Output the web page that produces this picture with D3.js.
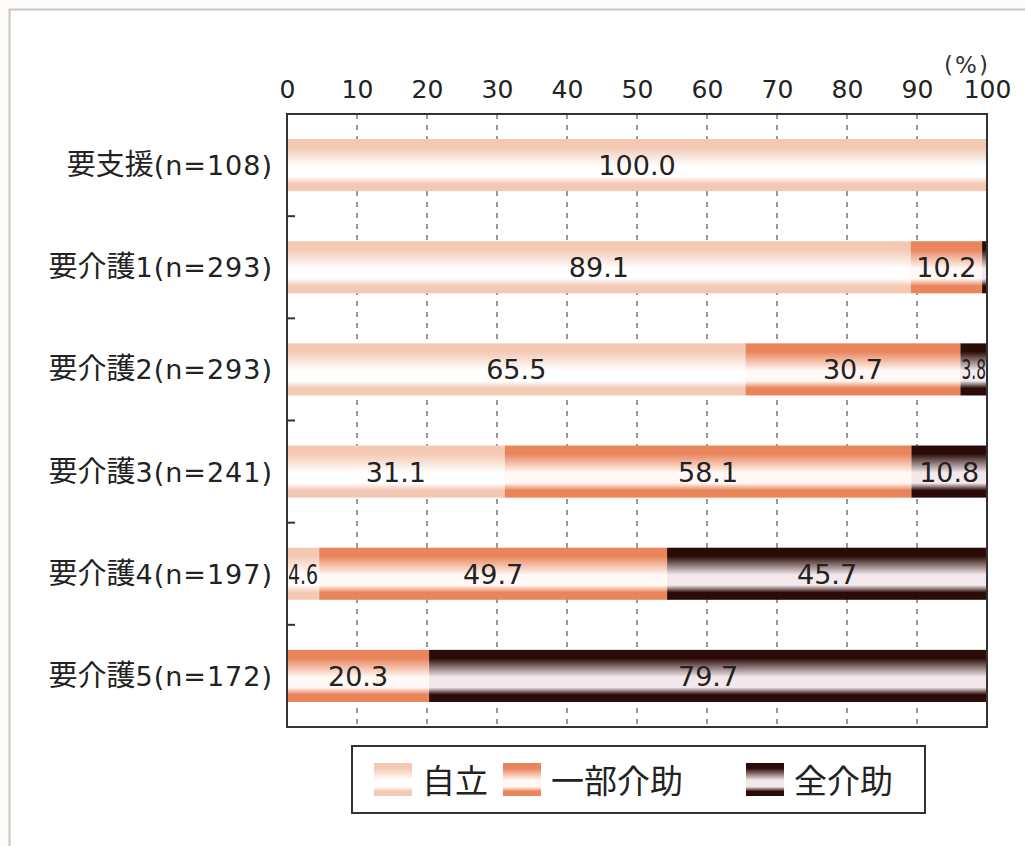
<!DOCTYPE html>
<html>
<head>
<meta charset="utf-8">
<script src="https://cdn.jsdelivr.net/npm/d3@7"></script>
<style>
  body { margin: 0; background: #fdfcfa; }
  svg { display: block; }
</style>
</head>
<body>
<div id="chart"></div>
<script>
// categories and series (percent)
const categories = ['要支援', '要介護1', '要介護2', '要介護3', '要介護4', '要介護5'];
const counts = ['(n=108)', '(n=293)', '(n=293)', '(n=241)', '(n=197)', '(n=172)'];
const seriesNames = ['自立', '一部介助', '全介助'];
const jiritsu = [100.0, 89.1, 65.5, 31.1, 4.6, 0];
const ichibu = [0, 10.2, 30.7, 58.1, 49.7, 20.3];
const zenkaijo = [0, 0.7, 3.8, 10.8, 45.7, 79.7];
const xTicks = [0, 10, 20, 30, 40, 50, 60, 70, 80, 90, 100];

const rows = categories.map((c, i) => ({ cat: c, n: counts[i], '自立': jiritsu[i], '一部介助': ichibu[i], '全介助': zenkaijo[i] }));

const W = 1025, H = 846;
const margin = { left: 287, right: 38, top: 114, bottom: 119 };
const width = W - margin.left - margin.right;
const height = H - margin.top - margin.bottom;

const svg = d3.select('#chart').append('svg')
  .attr('width', W)
  .attr('height', H);

// outer frame of the figure
svg.append('rect')
  .attr('x', 9.5).attr('y', 9.5)
  .attr('width', W + 20).attr('height', H + 20)
  .attr('fill', '#ffffff')
  .attr('stroke', '#c9c3c0')
  .attr('stroke-width', 2);

// gradients: colour at edges, white band in the middle
const colors = { '自立': '#f3c9b3', '一部介助': '#e9845b', '全介助': '#2b0b07' };
const mids = { '自立': '#ffffff', '一部介助': '#fff8f4', '全介助': '#f3e9ec' };
const defs = svg.append('defs');
seriesNames.forEach((s, i) => {
  const gr = defs.append('linearGradient')
    .attr('id', 'grad' + i)
    .attr('x1', 0).attr('y1', 0).attr('x2', 0).attr('y2', 1);
  [[0, colors[s]], [0.16, colors[s]], [0.52, mids[s]], [0.72, mids[s]], [0.86, colors[s]], [1, colors[s]]]
    .forEach(st => gr.append('stop').attr('offset', st[0]).attr('stop-color', st[1]));
});

const g = svg.append('g')
  .attr('transform', `translate(${margin.left}, ${margin.top})`);

// scales
const x = d3.scaleLinear().domain([0, 100]).range([0, width]);
const y = d3.scaleBand().domain(categories).range([0, height]).paddingInner(0.49).paddingOuter(0.245);
const yTicks = d3.scaleBand().domain(categories).range([0, height]);

// dashed grid
g.selectAll('.grid')
  .data(xTicks.slice(1, -1))
  .enter().append('line')
  .attr('x1', d => x(d)).attr('x2', d => x(d))
  .attr('y1', 0).attr('y2', height)
  .attr('stroke', '#555')
  .attr('stroke-width', 1.2)
  .attr('stroke-dasharray', '5,6');

// x axis on top
const xAxis = d3.axisTop(x)
  .tickValues(xTicks)
  .tickSize(0)
  .tickPadding(16);
g.append('g')
  .attr('class', 'x axis')
  .call(xAxis)
  .call(a => a.select('.domain').remove())
  .selectAll('text')
  .attr('font-family', 'DejaVu Sans')
  .attr('font-size', '25px')
  .attr('fill', '#222');

g.append('text')
  .attr('x', width - 20)
  .attr('y', -41)
  .attr('text-anchor', 'middle')
  .attr('font-family', 'DejaVu Sans')
  .attr('font-size', '23px')
  .attr('letter-spacing', '2px')
  .attr('fill', '#333')
  .text('(%)');

// stacked bars
const stack = d3.stack().keys(seriesNames);
const layers = stack(rows);

const layer = g.selectAll('.layer')
  .data(layers)
  .enter().append('g')
  .attr('fill', (d, i) => `url(#grad${i})`);

layer.selectAll('rect')
  .data(d => d.filter(p => p[1] - p[0] > 0))
  .enter().append('rect')
  .attr('x', d => x(d[0]))
  .attr('y', d => y(d.data.cat))
  .attr('width', d => x(d[1]) - x(d[0]))
  .attr('height', y.bandwidth());

// value labels
layers.forEach(l => {
  l.filter(p => p[1] - p[0] >= 3).forEach(p => {
    const v = p[1] - p[0];
    const t = g.append('text')
      .attr('x', x((p[0] + p[1]) / 2))
      .attr('y', y(p.data.cat) + y.bandwidth() / 2 + 10)
      .attr('text-anchor', 'middle')
      .attr('font-family', 'DejaVu Sans')
      .attr('font-size', '27px')
      .attr('fill', '#222')
      .text(v.toFixed(1));
    if (v < 6) t.attr('textLength', x(v) - 2).attr('lengthAdjust', 'spacingAndGlyphs');
  });
});

// plot frame
g.append('rect')
  .attr('width', width).attr('height', height)
  .attr('fill', 'none')
  .attr('stroke', '#333')
  .attr('stroke-width', 2);

// y axis ticks at band edges
g.selectAll('.ytick')
  .data(categories.slice(1))
  .enter().append('line')
  .attr('x1', 0).attr('x2', 8)
  .attr('y1', d => yTicks(d)).attr('y2', d => yTicks(d))
  .attr('stroke', '#333')
  .attr('stroke-width', 2);

// category labels
const catLabel = g.selectAll('.cat')
  .data(rows)
  .enter().append('text')
  .attr('x', -14)
  .attr('y', d => y(d.cat) + y.bandwidth() / 2 + 10)
  .attr('text-anchor', 'end')
  .attr('fill', '#222');
catLabel.append('tspan')
  .attr('font-family', 'Noto Sans CJK JP')
  .attr('font-size', '29px')
  .text(d => d.cat.replace(/\d$/, ''));
catLabel.append('tspan')
  .attr('font-family', 'DejaVu Sans')
  .attr('font-size', '27px')
  .attr('letter-spacing', '1px')
  .text(d => (d.cat.match(/\d$/) || [''])[0] + d.n);

// legend
const legend = svg.append('g').attr('transform', 'translate(352, 746)');
legend.append('rect')
  .attr('width', 573).attr('height', 67)
  .attr('fill', '#fff')
  .attr('stroke', '#333')
  .attr('stroke-width', 2);

const legendX = [22, 151, 394];
seriesNames.forEach((s, i) => {
  const item = legend.append('g').attr('transform', `translate(${legendX[i]}, 17)`);
  item.append('rect')
    .attr('width', 38).attr('height', 33)
    .attr('fill', `url(#grad${i})`);
  item.append('text')
    .attr('x', 48).attr('y', 30)
    .attr('font-family', 'Noto Sans CJK JP')
    .attr('font-size', '33px')
    .attr('fill', '#222')
    .text(s);
});
</script>
</body>
</html>
